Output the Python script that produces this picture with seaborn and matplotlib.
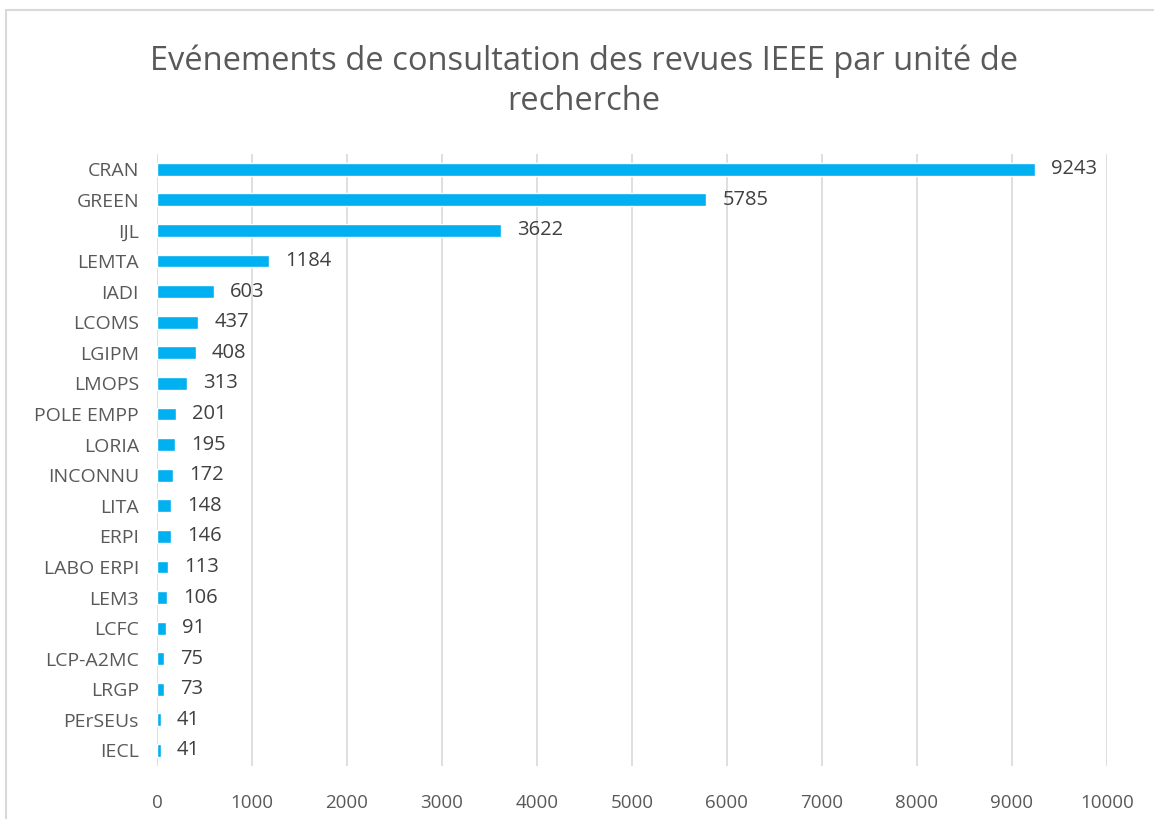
import matplotlib
matplotlib.use("Agg")
import matplotlib.pyplot as plt
import seaborn as sns
import pandas as pd
from matplotlib.patches import Rectangle

units = ["CRAN", "GREEN", "IJL", "LEMTA", "IADI", "LCOMS", "LGIPM", "LMOPS",
         "POLE EMPP", "LORIA", "INCONNU", "LITA", "ERPI", "LABO ERPI", "LEM3",
         "LCFC", "LCP-A2MC", "LRGP", "PErSEUs", "IECL"]
events = [9243, 5785, 3622, 1184, 603, 437, 408, 313, 201, 195, 172, 148,
          146, 113, 106, 91, 75, 73, 41, 41]
x_ticks = list(range(0, 10001, 1000))

df = pd.DataFrame({"unite": units, "events": events})

sns.set_theme(style="white")
plt.rcParams["font.family"] = ["Open Sans", "DejaVu Sans"]

fig = plt.figure(figsize=(11.54, 8.19), dpi=100)
ax = fig.add_axes([0.136, 0.065, 0.823, 0.747])

sns.barplot(data=df, x="events", y="unite", orient="h", color="#00B0F0",
            saturation=1, width=0.42, ax=ax)

ax.set_xlim(0, 10000)
ax.set_xticks(x_ticks)
ax.set_xticklabels([str(t) for t in x_ticks])
ax.set_ylim(len(units) - 0.5, -0.5)
ax.grid(axis="x", color="#D9D9D9", linewidth=1.2)
ax.set_axisbelow(True)
for s in ax.spines.values():
    s.set_visible(False)
ax.set_xlabel("")
ax.set_ylabel("")
ax.tick_params(axis="both", length=0, colors="#595959")
ax.tick_params(axis="x", pad=20, labelsize=13.5)
ax.tick_params(axis="y", pad=13, labelsize=14)

for i, v in enumerate(events):
    ax.text(v + 170, i, str(v), va="center", ha="left", fontsize=14.5, color="#404040")

fig.suptitle("Evénements de consultation des revues IEEE par unité de\nrecherche",
             x=0.506, y=0.946, fontsize=23.5, color="#595959", linespacing=1.3)

fig.patches.append(Rectangle((6 / 1154, -0.1), 1.2, 1 - 10 / 819 + 0.1,
                             transform=fig.transFigure, fill=False,
                             edgecolor="#D9D9D9", linewidth=1.5))

fig.savefig("out.png", dpi=100)
